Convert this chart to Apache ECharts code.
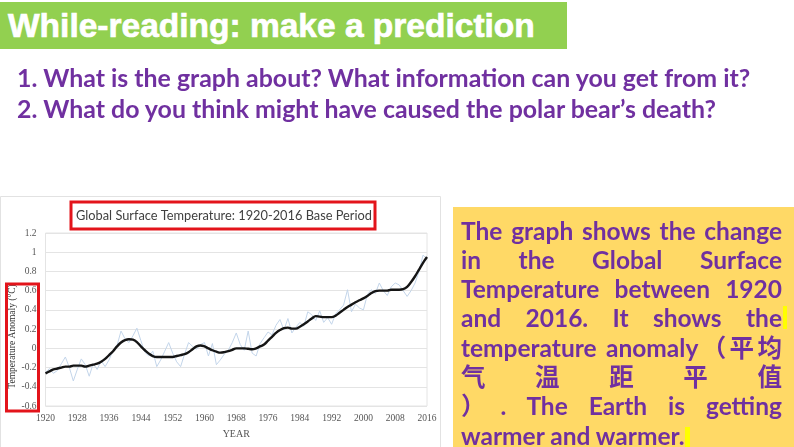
<!DOCTYPE html>
<html><head><meta charset="utf-8">
<script src="https://cdn.jsdelivr.net/npm/echarts@6/dist/echarts.min.js"></script>
<style>
html,body{margin:0;padding:0;width:794px;height:447px;overflow:hidden;background:#fff;}
#chart{position:absolute;left:0;top:0;width:794px;height:447px;}
#hdr{position:absolute;left:0;top:2px;width:567px;height:47px;background:#92D050;}
#hdr span{position:absolute;left:8px;top:0;line-height:47px;font-family:"Liberation Sans",Arial,sans-serif;font-weight:bold;font-size:33.5px;color:#fff;white-space:nowrap;-webkit-text-stroke:0.7px #fff;}
.q{position:absolute;left:17px;line-height:31px;font-family:Lato,sans-serif;font-weight:bold;font-size:24.9px;color:#7030A0;white-space:nowrap;}
#box{position:absolute;left:453px;top:207px;width:341px;height:240px;background:#FFD966;}
.ln{position:absolute;left:8px;width:321px;height:29px;line-height:29px;font-family:Lato,"Noto Sans CJK SC",sans-serif;font-weight:bold;font-size:24.5px;color:#7030A0;text-align:justify;text-align-last:justify;text-justify:inter-word;white-space:nowrap;}
.ln.last{text-align:left;text-align-last:left;}
.hl{position:absolute;background:#FFFF00;}
</style>
</head><body>
<div id="chart"></div>
<div id="hdr"><span>While-reading: make a prediction</span></div>
<div class="q" style="top:61.5px">1. What is the graph about? What information can you get from it?</div>
<div class="q" style="top:92.5px">2. What do you think might have caused the polar bear’s death?</div>
<div id="box">
  <div class="ln" style="top:8.5px">The graph shows the change</div>
  <div class="ln" style="top:37.8px">in the Global Surface</div>
  <div class="ln" style="top:67.1px">Temperature between 1920</div>
  <div class="ln" style="top:96.4px">and 2016. It shows the</div>
  <div class="hl" style="left:330px;top:99px;width:4px;height:23px"></div>
  <div class="ln" style="top:125.7px">temperature anomaly（平均</div>
  <div class="ln" style="top:155px">气 温 距 平 值</div>
  <div class="ln" style="top:184.3px">）. The Earth is getting</div>
  <div class="ln last" style="top:213.6px">warmer and warmer.<span style="display:inline-block;width:5px;height:23px;background:#FFFF00;vertical-align:middle"></span></div>
</div>
<script>
// ---- data ----
const years = [1920,1921,1922,1923,1924,1925,1926,1927,1928,1929,
  1930,1931,1932,1933,1934,1935,1936,1937,1938,1939,
  1940,1941,1942,1943,1944,1945,1946,1947,1948,1949,
  1950,1951,1952,1953,1954,1955,1956,1957,1958,1959,
  1960,1961,1962,1963,1964,1965,1966,1967,1968,1969,
  1970,1971,1972,1973,1974,1975,1976,1977,1978,1979,
  1980,1981,1982,1983,1984,1985,1986,1987,1988,1989,
  1990,1991,1992,1993,1994,1995,1996,1997,1998,1999,
  2000,2001,2002,2003,2004,2005,2006,2007,2008,2009,
  2010,2011,2012,2013,2014,2015,2016];
const annualAnomaly = [-0.25,-0.21,-0.26,-0.23,-0.16,-0.09,-0.20,-0.34,-0.22,-0.11,
  -0.17,-0.29,-0.16,-0.22,-0.13,-0.19,-0.12,-0.02,0.03,0.18,
  0.10,0.06,0.13,0.21,0.08,-0.04,-0.08,-0.03,-0.19,-0.12,
  -0.03,0.06,-0.05,-0.14,-0.19,-0.06,0.06,0.02,-0.01,0.04,
  0.06,-0.08,0.05,-0.17,-0.12,-0.06,-0.02,0.06,0.16,0.04,
  -0.02,0.18,-0.05,-0.08,0.05,0.11,0.17,0.14,0.24,0.30,
  0.19,0.31,0.16,0.22,0.27,0.23,0.38,0.35,0.29,0.39,
  0.27,0.32,0.25,0.36,0.40,0.45,0.61,0.38,0.46,0.42,
  0.40,0.56,0.61,0.57,0.68,0.60,0.55,0.64,0.68,0.66,
  0.60,0.54,0.60,0.68,0.80,0.97,0.93];
const smoothedAnomaly = [-0.26,-0.24,-0.22,-0.21,-0.20,-0.19,-0.19,-0.18,-0.18,-0.18,
  -0.19,-0.18,-0.17,-0.16,-0.14,-0.11,-0.07,-0.03,0.02,0.06,
  0.085,0.095,0.09,0.065,0.02,-0.02,-0.055,-0.08,-0.09,-0.09,
  -0.09,-0.09,-0.09,-0.08,-0.07,-0.06,-0.04,-0.01,0.02,0.03,
  0.02,0.00,-0.02,-0.035,-0.045,-0.04,-0.03,-0.015,0.00,0.00,
  0.00,-0.005,-0.01,0.00,0.02,0.04,0.08,0.12,0.16,0.19,
  0.21,0.215,0.205,0.205,0.225,0.25,0.28,0.31,0.335,0.33,
  0.325,0.325,0.325,0.34,0.37,0.40,0.43,0.455,0.48,0.50,
  0.52,0.545,0.575,0.595,0.60,0.60,0.60,0.61,0.61,0.61,
  0.615,0.64,0.69,0.75,0.82,0.89,0.95];
const chartTitle = 'Global Surface Temperature: 1920-2016 Base Period';
const yAxisName = 'Temperature Anomaly (°C)';
const xAxisName = 'YEAR';

const chart = echarts.init(document.getElementById('chart'), null, {renderer:'canvas'});
const serif = '"Liberation Serif","DejaVu Serif",serif';
chart.setOption({
  animation:false,
  grid:{left:45.5, right:367, top:233, bottom:41, show:true, borderColor:'#e4e4e4', borderWidth:1},
  xAxis:{type:'value', min:1920, max:2016, interval:8,
    name:xAxisName, nameLocation:'middle', nameGap:23,
    nameTextStyle:{fontFamily:serif, fontSize:10, color:'#555'},
    axisLine:{show:false}, axisTick:{show:false}, splitLine:{show:false},
    axisLabel:{fontFamily:serif, fontSize:9.5, color:'#555', margin:7, formatter:v=>String(v)}},
  yAxis:{type:'value', min:-0.6, max:1.2, interval:0.2,
    name:yAxisName, nameLocation:'middle', nameGap:23, nameRotate:90,
    nameTextStyle:{fontFamily:serif, fontSize:9.5, color:'#333', padding:[0,34,0,0]},
    axisLine:{show:false}, axisTick:{show:false},
    splitLine:{lineStyle:{color:'#e4e4e4', width:1}},
    axisLabel:{fontFamily:serif, fontSize:9.5, color:'#555', margin:9,
      formatter:v=>String(Math.round(v*10)/10)}},
  series:[
    {type:'line', data:years.map((y,i)=>[y,annualAnomaly[i]]), showSymbol:false,
     lineStyle:{color:'#c3d5ea', width:1}, z:2},
    {type:'line', data:years.map((y,i)=>[y,smoothedAnomaly[i]]), showSymbol:false, smooth:0.4,
     lineStyle:{color:'#151515', width:2.4}, z:3}
  ],
  graphic:[
    {type:'rect', shape:{x:0.5,y:196.5,width:440,height:260}, style:{fill:'none', stroke:'#e2e2e2', lineWidth:1}, silent:true},
    {type:'rect', shape:{x:71,y:202,width:304,height:27}, style:{fill:'#fff', stroke:'#e3141b', lineWidth:3}, z:10},
    {type:'text', x:76, y:215.5, style:{text:chartTitle, font:'12.8px Lato, sans-serif', fill:'#404040', textVerticalAlign:'middle'}, z:11},
    {type:'rect', shape:{x:6.5,y:284,width:32,height:127}, style:{fill:'none', stroke:'#e3141b', lineWidth:3}, z:10}
  ]
});
</script>
</body></html>
